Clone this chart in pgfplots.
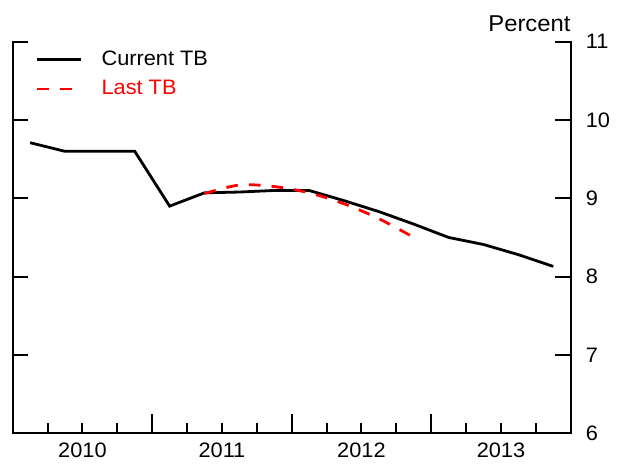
\documentclass[border=0pt]{standalone}
\usepackage{pgfplots}
\pgfplotsset{compat=1.18}
\usepackage{fontspec}
\setmainfont[FakeStretch=1.04]{Liberation Sans}
\begin{document}
\fontsize{21}{24}\selectfont
\begin{tikzpicture}
\begin{axis}[
  scale only axis,
  width=558bp, height=391.5bp,
  xmin=2010, xmax=2014, ymin=6, ymax=11,
  axis line style={draw=none},
  /pgf/number format/assume math mode=true,
  xtick={2010,2011,2012,2013,2014},
  xticklabels={},
  minor x tick num=3,
  xtick pos=bottom,
  tick align=inside,
  major tick length=19bp,
  minor tick length=10bp,
  every tick/.style={black, line width=2bp},
  extra x ticks={2010.5,2011.5,2012.5,2013.5},
  extra x tick labels={2010,2011,2012,2013},
  extra x tick style={major tick length=0pt, xticklabel style={yshift=-3bp}},
  ytick={6,7,8,9,10},
  ytick pos=both,
  yticklabel pos=right,
  y tick style={/pgfplots/major tick length=15.5bp},
  yticklabel style={xshift=8bp},
  extra y ticks={11},
  extra y tick style={major tick length=22bp},
  legend cell align=left,
  legend style={draw=none, fill=none, at={(rel axis cs:0.041,0.982)}, anchor=north west,
    row sep=7.5bp, inner sep=0pt, nodes={inner sep=2bp}},
  legend image code/.code={\draw[#1] (0bp,0bp) -- (44bp,0bp); \path (61bp,0bp);},
  clip=false,
]
\addplot[black, line width=2.8bp] coordinates {
(2010.125,9.71) (2010.375,9.60) (2010.625,9.60) (2010.875,9.60)
(2011.125,8.90) (2011.375,9.07) (2011.625,9.08) (2011.875,9.10)
(2012.125,9.10) (2012.375,8.97) (2012.625,8.83) (2012.875,8.67)
(2013.125,8.50) (2013.375,8.41) (2013.625,8.28) (2013.875,8.13)
};
\addlegendentry{Current TB}
\addplot[red, line width=2.8bp, dash pattern=on 11.7bp off 11bp, smooth] coordinates {
(2011.375,9.06) (2011.625,9.17) (2011.875,9.15) (2012.125,9.07)
(2012.375,8.93) (2012.625,8.74) (2012.875,8.50)
};
\addlegendentry{\textcolor{red}{Last TB}}
\end{axis}
\draw[line width=2bp, line cap=rect] (current axis.north west) -- (current axis.south west) -- (current axis.south east) -- (current axis.north east);
\node[anchor=base east, inner sep=0pt, font=\fontsize{23}{25}\selectfont] at ([yshift=10.5bp]current axis.north east) {Percent};
\pgfresetboundingbox
\path[use as bounding box] ([shift={(-12.7bp,-30.8bp)}]current axis.south west) rectangle ([shift={(46.3bp,41.7bp)}]current axis.north east);
\end{tikzpicture}
\end{document}
